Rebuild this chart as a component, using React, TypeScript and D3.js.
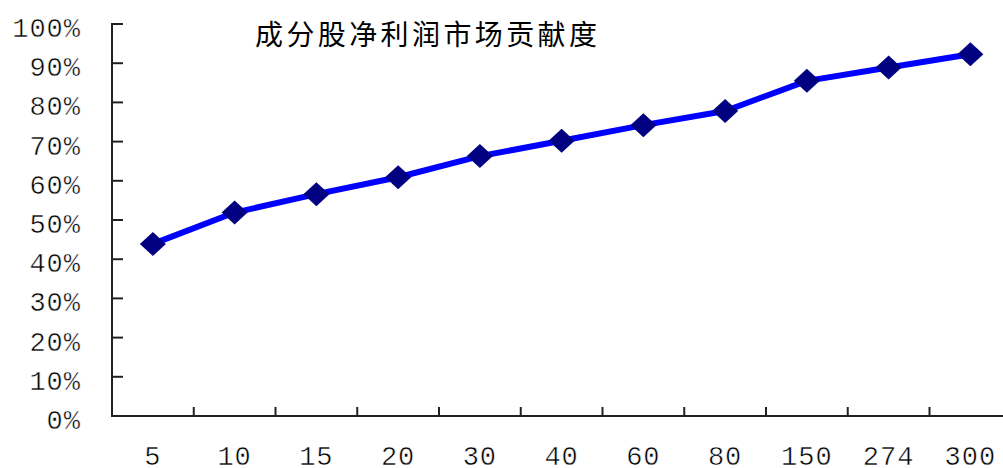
import React from "react";
import * as d3 from "d3";

// Constituent-count buckets and the share of market net profit they contribute (%)
const categories: string[] = ["5", "10", "15", "20", "30", "40", "60", "80", "150", "274", "300"];
const contribution: number[] = [43.9, 51.9, 56.6, 60.9, 66.3, 70.2, 74.2, 77.8, 85.5, 88.9, 92.3];
const yTicks: number[] = [0, 10, 20, 30, 40, 50, 60, 70, 80, 90, 100];
const title = "成分股净利润市场贡献度";

const W = 1003;
const H = 468;
const left = 112;
const bandW = 81.75;
const top = 24;
const bottom = 416;

export default function App() {
  const x = d3
    .scaleBand<string>()
    .domain(categories)
    .range([left, left + bandW * categories.length])
    .paddingInner(0)
    .paddingOuter(0);
  const y = d3.scaleLinear().domain([0, 100]).range([bottom, top]);

  const cx = (c: string) => (x(c) as number) + x.bandwidth() / 2;
  const pts: [number, number][] = categories.map((c, i) => [cx(c), y(contribution[i])]);
  const linePath = d3.line()(pts) || "";

  const diamond = (px: number, py: number) => {
    const hw = 13;
    const hh = 12;
    return `M${px},${py - hh}L${px + hw},${py}L${px},${py + hh}L${px - hw},${py}Z`;
  };

  const monoFont = "'Liberation Mono', 'DejaVu Sans Mono', monospace";
  const labelSize = 27;
  const ls = 1;
  // thin white outline keeps the tick glyphs light
  const thin = { stroke: "#fff", strokeWidth: 0.5 };

  return (
    <svg
      width={W}
      height={H}
      style={{ position: "absolute", left: 0, top: 0, background: "#fff" }}
    >
      <rect x={0} y={0} width={W} height={H} fill="#fff" />
      {/* title */}
      <text
        x={255}
        y={45}
        fontFamily="'Noto Sans CJK SC', sans-serif"
        fontSize={28}
        letterSpacing={3.4}
        fill="#000"
      >
        {title}
      </text>

      {/* y axis */}
      <line x1={left} x2={left} y1={top - 1} y2={bottom + 1} stroke="#222" strokeWidth={2} />
      {yTicks.map((t) => (
        <g key={t}>
          {t > 0 && (
            <line x1={left} x2={left + 11} y1={y(t)} y2={y(t)} stroke="#222" strokeWidth={2} />
          )}
          <text
            x={80 + ls}
            y={y(t) + 13}
            textAnchor="end"
            fontFamily={monoFont}
            fontSize={labelSize}
            letterSpacing={ls}
            fill="#000"
            {...thin}
          >
            {`${t}%`}
          </text>
        </g>
      ))}

      {/* x axis */}
      <line x1={left - 1} x2={W} y1={bottom} y2={bottom} stroke="#222" strokeWidth={2} />
      {categories.slice(1).map((c) => (
        <line
          key={c}
          x1={x(c) as number}
          x2={x(c) as number}
          y1={bottom}
          y2={bottom - 9}
          stroke="#222"
          strokeWidth={2}
        />
      ))}
      {categories.map((c) => (
        <text
          key={c}
          x={cx(c)}
          y={465}
          textAnchor="middle"
          fontFamily={monoFont}
          fontSize={labelSize}
          letterSpacing={ls}
          fill="#000"
          {...thin}
        >
          {c}
        </text>
      ))}

      {/* series */}
      <path d={linePath} fill="none" stroke="#0000FF" strokeWidth={6} strokeLinejoin="round" />
      {pts.map(([px, py], i) => (
        <path key={categories[i]} d={diamond(px, py)} fill="#000080" />
      ))}
    </svg>
  );
}
